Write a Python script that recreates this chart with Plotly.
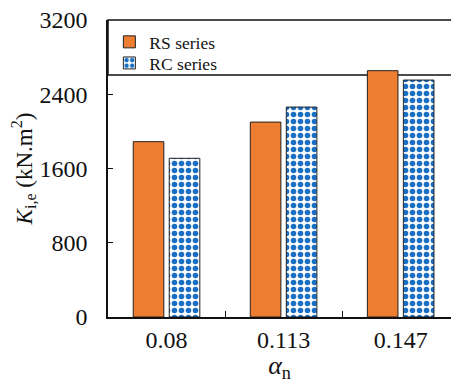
import plotly.graph_objects as go

# Initial stiffness for each axial load ratio
alpha_labels = ["0.08", "0.113", "0.147"]
rs_values = [1889, 2100, 2654]
rc_values = [1710, 2262, 2553]
y_ticks = [0, 800, 1600, 2400, 3200]

FONT = "Liberation Serif"

fig = go.Figure()
fig.add_trace(go.Bar(
    x=alpha_labels, y=rs_values, name="RS series", legend="legend",
    marker=dict(color="#ED7D31", line=dict(color="#222222", width=1)),
))
fig.add_trace(go.Bar(
    x=alpha_labels, y=rc_values, name="RC series", legend="legend2",
    marker=dict(
        color="white",
        line=dict(color="#222222", width=1),
        pattern=dict(shape=".", fgcolor="#1a6fc4", bgcolor="white",
                     size=7, solidity=0.5, fillmode="replace"),
    ),
))

# Frame around the legend, sitting behind the bars
fig.add_shape(type="rect", xref="paper", yref="paper",
              x0=0, x1=1.05, y0=0.815, y1=1.0,
              line=dict(color="#111111", width=1.5), layer="below")

legend_style = dict(xanchor="left", yanchor="middle", bgcolor="rgba(0,0,0,0)",
                    font=dict(size=17.5, family=FONT, color="#111111"),
                    itemwidth=30, borderwidth=0)

fig.update_layout(
    width=451, height=383,
    margin=dict(l=108, r=0, t=20, b=66),
    plot_bgcolor="white", paper_bgcolor="white",
    barmode="group", bargap=0.385, bargroupgap=0.15,
    font=dict(family=FONT, color="#111111", size=24),
    showlegend=True,
    legend=dict(x=0.004, y=0.926, **legend_style),
    legend2=dict(x=0.004, y=0.855, **legend_style),
    xaxis=dict(
        type="category", range=[-0.5, 2.43],
        tickson="boundaries", ticks="inside", ticklen=6, tickcolor="#111111",
        showline=True, linecolor="#111111", linewidth=1.5,
        showgrid=False, tickfont=dict(size=24),
        title=dict(text="<i>α</i><sub>n</sub>", font=dict(size=26), standoff=0),
    ),
    yaxis=dict(
        range=[0, 3200], tickvals=y_ticks, ticks="inside", ticklen=5,
        tickcolor="#111111", showline=True, linecolor="#111111", linewidth=1.5,
        showgrid=False, zeroline=False, tickfont=dict(size=24), ticklabelstandoff=14,
        title=dict(text="<i>K</i><sub>i,e</sub> (kN.m<sup>2</sup>)",
                   font=dict(size=23), standoff=0),
    ),
)

fig.write_html("out.html")
